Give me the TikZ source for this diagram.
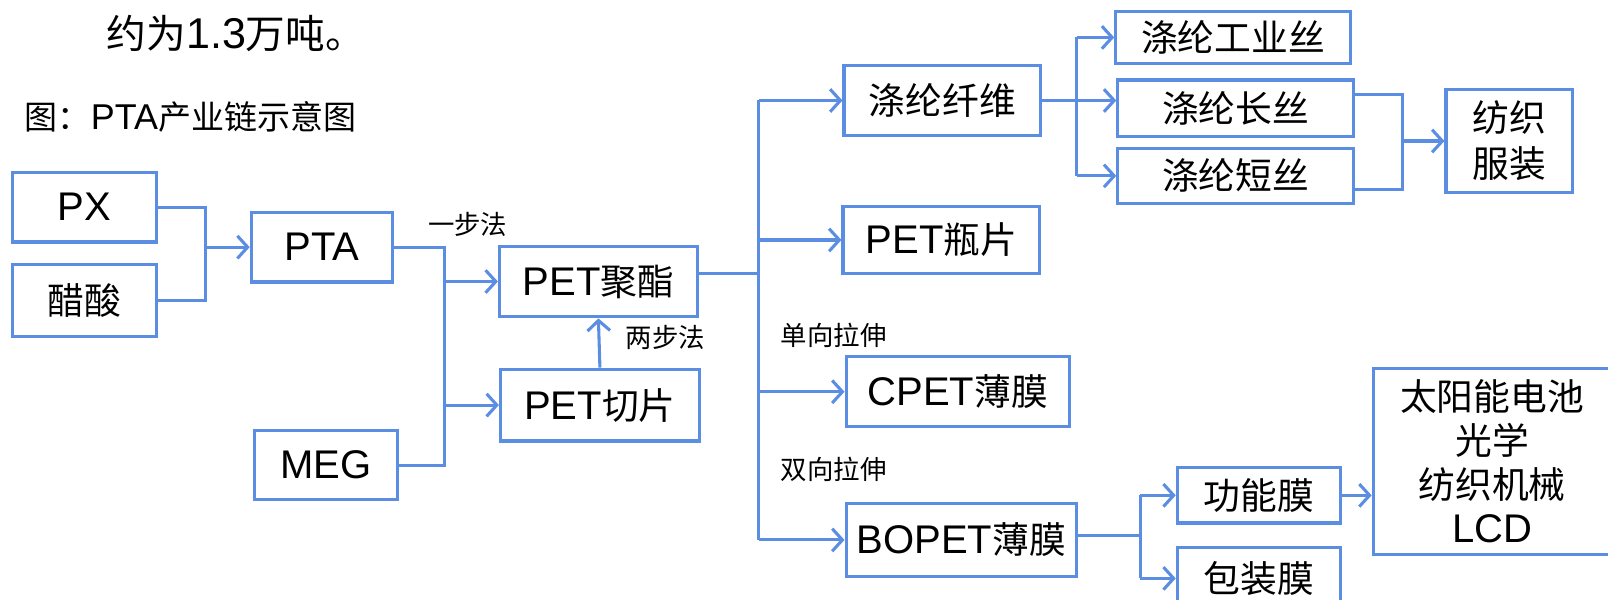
\documentclass[tikz,border=0pt]{standalone}
\usepackage{fontspec}
\setmainfont{Liberation Sans}
\newfontfamily\cjkf[Scale=0.92]{Noto Sans CJK SC}
\newcommand\zh[1]{{\cjkf #1}}
\usetikzlibrary{arrows.meta}
\definecolor{lnblue}{RGB}{91,142,227}
\begin{document}
\begin{tikzpicture}[x=1pt,y=-1pt,
  box/.style={draw=lnblue,line width=3pt,inner sep=0pt,align=center,font=\fontsize{39}{44}\selectfont},
  ln/.style={draw=lnblue,line width=3pt},
  arr/.style={draw=lnblue,line width=3pt,-{Straight Barb[length=10pt,width=22pt]}},
  lbl/.style={inner sep=0pt,font=\fontsize{28}{30}\selectfont}]
\useasboundingbox (0,0) rectangle (1568,585);
\clip (0,0) rectangle (1568,585);
% text
\node[anchor=west,inner sep=0pt,font=\fontsize{42}{44}\selectfont] (toptxt) at (104,33) {\zh{约为}1.3\zh{万吨。}};
\node[anchor=west,inner sep=0pt,font=\fontsize{35}{37}\selectfont] (cap) at (24,114) {\zh{图：}PTA\zh{产业链示意图}};
% boxes
\node[box,minimum width=141pt,minimum height=68pt] (px) at (82.5,202) {PX};
\node[box,minimum width=141pt,minimum height=70pt] (cs) at (82.5,293) {\zh{醋酸}};
\node[box,minimum width=138pt,minimum height=68pt] (pta) at (314,241) {PTA};
\node[box,minimum width=140pt,minimum height=67pt] (meg) at (318,453.5) {MEG};
\node[box,minimum width=193pt,minimum height=69pt] (pet) at (583.5,274.5) {PET\zh{聚酯}};
\node[box,minimum width=194pt,minimum height=70pt] (chip) at (585,395) {PET\zh{切片}};
\node[box,minimum width=192pt,minimum height=68pt] (fib) at (919,98) {\zh{涤纶纤维}};
\node[box,minimum width=192pt,minimum height=66pt] (bot) at (918,234) {PET\zh{瓶片}};
\node[box,minimum width=218pt,minimum height=68pt] (cpet) at (934,382) {CPET\zh{薄膜}};
\node[box,minimum width=225pt,minimum height=71pt] (bopet) at (937.5,526.5) {BOPET\zh{薄膜}};
\node[box,minimum width=229pt,minimum height=51pt] (ind) at (1202.5,36.5) {\zh{涤纶工业丝}};
\node[box,minimum width=230pt,minimum height=55pt] (lng) at (1205,105.5) {\zh{涤纶长丝}};
\node[box,minimum width=230pt,minimum height=53pt] (sht) at (1205,171.5) {\zh{涤纶短丝}};
\node[box,minimum width=123pt,minimum height=101pt,font=\fontsize{39}{45}\selectfont] (tex) at (1471.5,137.5) {\zh{纺织}\\\zh{服装}};
\node[box,minimum width=159pt,minimum height=54pt] (fun) at (1227.5,483) {\zh{功能膜}};
\node[box,minimum width=159pt,minimum height=60pt] (pkg) at (1227.5,564) {\zh{包装膜}};
\node[box,minimum width=232pt,minimum height=182pt,font=\fontsize{39}{43}\selectfont] (app) at (1455,450) {\zh{太阳能电池}\\\zh{光学}\\\zh{纺织机械}\\LCD};
% labels
\node[lbl] (l1) at (456,219) {\zh{一步法}};
\node[lbl] (l2) at (649,329) {\zh{两步法}};
\node[lbl] (l3) at (813,327) {\zh{单向拉伸}};
\node[lbl] (l4) at (813,458) {\zh{双向拉伸}};
% connectors
\coordinate (j1) at (200,241);
\draw[ln] (px.east) -| (j1) |- (cs.east);
\draw[arr] (j1) -- (pta.west);
\coordinate (j2) at (433,300);
\draw[ln] (pta.east) -| (j2) |- (meg.east);
\draw[arr] (j2 |- pet.west) -- (pet.west);
\draw[arr] (j2 |- chip.west) -- (chip.west);
\draw[arr] (chip.north) -- (pet.south);
\coordinate (t) at (740,300);
\draw[ln] ([yshift=8pt]pet.east) coordinate (pe) -- (pe -| t);
\draw[ln] (t |- fib.west) -- (t |- bopet.west);
\draw[arr] (t |- fib.west) -- (fib.west);
\draw[arr] (t |- bot.west) -- (bot.west);
\draw[arr] (t |- cpet.west) -- (cpet.west);
\draw[arr] (t |- bopet.west) -- (bopet.west);
\coordinate (f) at (1050,100);
\draw[ln] (f |- ind.west) -- (f |- sht.west);
\draw[arr] (fib.east) -- (fib.east -| lng.west);
\draw[arr] (f |- ind.west) -- (ind.west);
\draw[arr] (f |- sht.west) -- (sht.west);
\coordinate (g) at (1368,138);
\draw[ln] ([yshift=13pt]lng.east) -| (g);
\draw[ln] ([yshift=-13pt]sht.east) -| (g);
\draw[arr] (g |- tex.west) -- (tex.west);
\coordinate (h) at (1112,520);
\draw[ln] ([yshift=4.5pt]bopet.east) coordinate (be) -- (be -| h);
\draw[ln] (h |- fun.west) -- (h |- pkg.west);
\draw[arr] (h |- fun.west) -- (fun.west);
\draw[arr] (h |- pkg.west) -- (pkg.west);
\draw[arr] (fun.east) -- (app.west |- fun.east);
\end{tikzpicture}
\end{document}
